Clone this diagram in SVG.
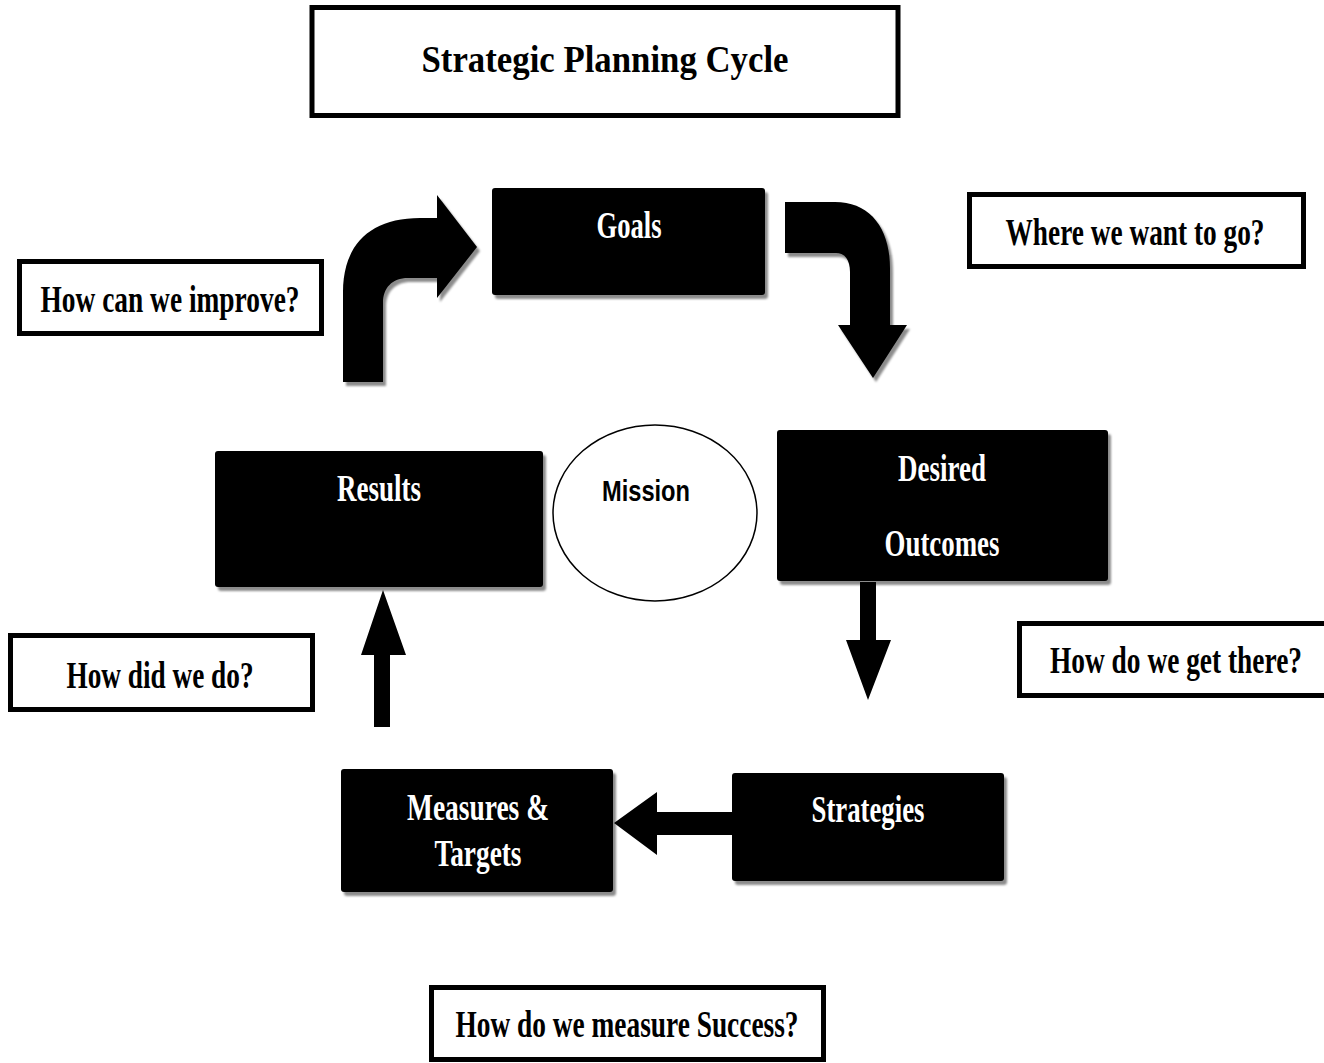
<svg xmlns="http://www.w3.org/2000/svg" width="1324" height="1063" viewBox="0 0 1324 1063">
<style>
.q{fill:#fff;stroke:#000;stroke-width:5}
.blk{fill:#000}
.sh{filter:url(#ds)}
.tq{font-family:"Liberation Serif","Times New Roman",serif;font-weight:bold;font-size:29.5px;fill:#000;text-anchor:middle}
.tw{font-family:"Liberation Serif","Times New Roman",serif;font-weight:bold;font-size:29.5px;fill:#fff;text-anchor:middle}
.ts{font-family:"Liberation Sans",Arial,sans-serif;font-weight:bold;font-size:30px;fill:#000;text-anchor:middle}
</style>
<defs>
<filter id="ds" x="-10%" y="-10%" width="130%" height="130%">
<feDropShadow dx="3" dy="4" stdDeviation="1.2" flood-color="#000" flood-opacity="0.45"/>
</filter>
</defs>
<rect width="1324" height="1063" fill="#fff"/>

<g id="title">
<rect class="q" x="312" y="7.5" width="586" height="108"/>
<text class="tq" transform="translate(605,72) scale(1,1.3)" x="0" y="0" font-size="42" textLength="367" lengthAdjust="spacingAndGlyphs">Strategic Planning Cycle</text>
</g>

<g id="connectors">
<path class="blk sh" d="M343,382 L343,292 C343,245 370,218 420,218 L437,218 L437,195 L477,247 L437,298 L437,278 L408,278 C392,278 383,288 383,303 L383,382 Z"/>
<path class="blk sh" d="M785,202 L835,202 C870,202 890,228 890,268 L890,325 L907,325 L873,378 L838,325 L850,325 L850,272 C850,260 845,253 836,253 L785,253 Z"/>
<path class="blk" d="M860,582 L876,582 L876,640 L891,640 L868,700 L846,640 L860,640 Z"/>
<path class="blk" d="M732,812 L657,812 L657,792 L614,823 L657,855 L657,835 L732,835 Z"/>
<path class="blk" d="M374,727 L390,727 L390,655 L406,655 L383,590 L361,655 L374,655 Z"/>
</g>

<g id="goals">
<rect class="blk sh" x="492" y="188" width="273" height="107" rx="3"/>
<text class="tw" transform="translate(629,238) scale(1,1.3)" x="0" y="0" textLength="65" lengthAdjust="spacingAndGlyphs">Goals</text>
</g>

<g id="results">
<rect class="blk sh" x="215" y="451" width="328" height="136" rx="3"/>
<text class="tw" transform="translate(379,501) scale(1,1.3)" x="0" y="0" textLength="84" lengthAdjust="spacingAndGlyphs">Results</text>
</g>

<g id="mission">
<ellipse cx="655" cy="513" rx="102" ry="88" fill="#fff" stroke="#000" stroke-width="1.5"/>
<text class="ts" x="646" y="501" textLength="88" lengthAdjust="spacingAndGlyphs">Mission</text>
</g>

<g id="desired">
<rect class="blk sh" x="777" y="430" width="331" height="151" rx="3"/>
<text class="tw" transform="translate(942,481) scale(1,1.3)" x="0" y="0" textLength="88" lengthAdjust="spacingAndGlyphs">Desired</text>
<text class="tw" transform="translate(942,556) scale(1,1.3)" x="0" y="0" textLength="115" lengthAdjust="spacingAndGlyphs">Outcomes</text>
</g>

<g id="strategies">
<rect class="blk sh" x="732" y="773" width="272" height="108" rx="3"/>
<text class="tw" transform="translate(868,822) scale(1,1.3)" x="0" y="0" textLength="113" lengthAdjust="spacingAndGlyphs">Strategies</text>
</g>

<g id="measures">
<rect class="blk sh" x="341" y="769" width="272" height="123" rx="3"/>
<text class="tw" transform="translate(478,820) scale(1,1.3)" x="0" y="0" textLength="142" lengthAdjust="spacingAndGlyphs">Measures &amp;</text>
<text class="tw" transform="translate(478,866) scale(1,1.3)" x="0" y="0" textLength="87" lengthAdjust="spacingAndGlyphs">Targets</text>
</g>

<g id="q-where">
<rect class="q" x="969.5" y="194.5" width="334" height="72"/>
<text class="tq" transform="translate(1135,245) scale(1,1.3)" x="0" y="0" textLength="259" lengthAdjust="spacingAndGlyphs">Where we want to go?</text>
</g>

<g id="q-improve">
<rect class="q" x="19.5" y="261.5" width="302" height="72"/>
<text class="tq" transform="translate(170,312) scale(1,1.3)" x="0" y="0" textLength="259" lengthAdjust="spacingAndGlyphs">How can we improve?</text>
</g>

<g id="q-there">
<rect class="q" x="1019.5" y="623.5" width="320" height="72"/>
<text class="tq" transform="translate(1176,673) scale(1,1.3)" x="0" y="0" textLength="252" lengthAdjust="spacingAndGlyphs">How do we get there?</text>
</g>

<g id="q-did">
<rect class="q" x="10.5" y="635.5" width="302" height="74"/>
<text class="tq" transform="translate(160,688) scale(1,1.3)" x="0" y="0" textLength="187" lengthAdjust="spacingAndGlyphs">How did we do?</text>
</g>

<g id="q-measure">
<rect class="q" x="431.5" y="987.5" width="392" height="72"/>
<text class="tq" transform="translate(627,1037) scale(1,1.3)" x="0" y="0" textLength="343" lengthAdjust="spacingAndGlyphs">How do we measure Success?</text>
</g>
</svg>
